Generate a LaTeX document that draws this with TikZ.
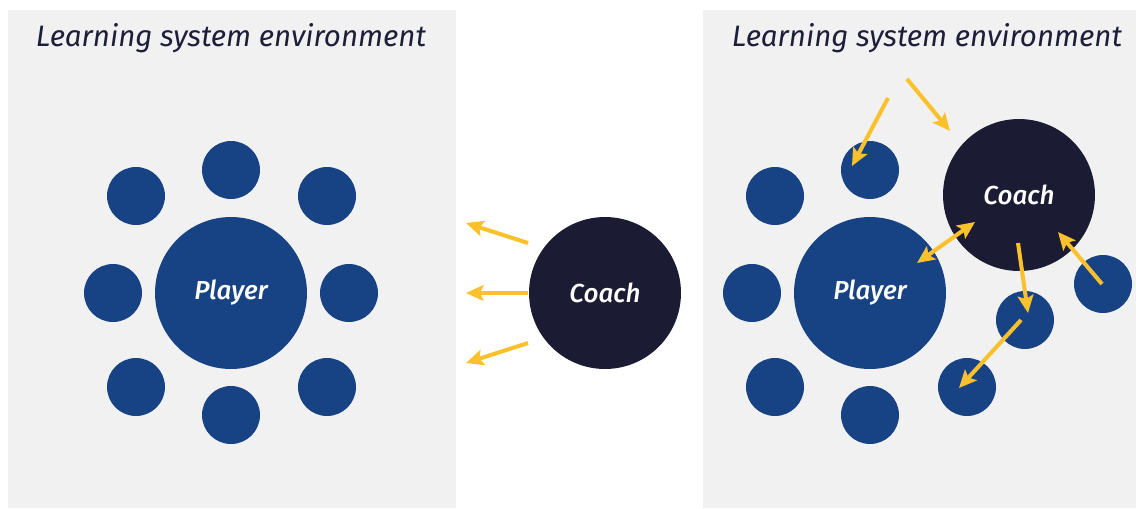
\documentclass[tikz,border=0pt]{standalone}
\usepackage{fontspec}
\setmainfont{Fira Sans}
\newfontfamily\bubblefont{Fira Sans}[UprightFont=* Medium,ItalicFont=* Medium Italic]
\usetikzlibrary{arrows.meta}
\definecolor{envgray}{HTML}{F1F1F1}
\definecolor{playerblue}{HTML}{174384}
\definecolor{coachnavy}{HTML}{1B1B33}
\definecolor{pullyellow}{HTML}{FBC12D}
\definecolor{titleink}{HTML}{1E1E3A}
\begin{document}
\begin{tikzpicture}[x=0.02cm,y=-0.02cm,
  ball/.style={circle,fill=playerblue,minimum size=1.16cm,inner sep=0pt},
  big/.style={circle,minimum size=3.04cm,inner sep=0pt,text=white,font=\bubblefont\itshape\fontsize{14.8}{16}\selectfont},
  envtitle/.style={text=titleink,font=\itshape\fontsize{16.8}{20}\selectfont},
  pull/.style={draw=pullyellow,line width=2.3pt,-{Stealth[length=10pt,width=9pt,inset=2pt]}}]
\useasboundingbox (0,0) rectangle (1136,508);
% two environments
\fill[envgray] (8,10) rectangle (456,508);
\fill[envgray] (703,10) rectangle (1136,508);
\node[envtitle] (t1) at (231,38) {Learning system environment};
\node[envtitle] (t2) at (927,38) {Learning system environment};
% left: player with its surroundings
\node[big,fill=playerblue] (p1) at (231,293) {Player};
\node[ball] (a1) at (231,170) {};\node[ball] (a2) at (136,196) {};
\node[ball] (a3) at (327,196) {};\node[ball] (a4) at (113,293) {};
\node[ball] (a5) at (349,293) {};\node[ball] (a6) at (136,387) {};
\node[ball] (a7) at (231,415) {};\node[ball] (a8) at (327,387) {};
% coach outside
\node[big,fill=coachnavy] (c1) at (605,293) {Coach};
\coordinate (o1) at (528,243);\coordinate (e1) at (466,223);
\coordinate (o2) at (528,293);\coordinate (e2) at (466,293);
\coordinate (o3) at (528,343);\coordinate (e3) at (466,363);
\draw[pull] (o1) -- (e1);
\draw[pull] (o2) -- (e2);
\draw[pull] (o3) -- (e3);
% right: coach inside the environment
\node[big,fill=playerblue] (p2) at (870,293) {Player};
\node[ball] (b1) at (870,170) {};\node[ball] (b2) at (775,196) {};
\node[ball] (b3) at (752,293) {};\node[ball] (b4) at (775,387) {};
\node[ball] (b5) at (870,415) {};\node[ball] (b6) at (967,387) {};
\node[ball] (b7) at (1025,320) {};\node[ball] (b8) at (1103,284) {};
\node[big,fill=coachnavy] (c2) at (1019,195) {Coach};
\coordinate (f1) at (888,98);\coordinate (g1) at (852,166);
\coordinate (f2) at (907,79);\coordinate (g2) at (950,131);
\coordinate (f3) at (917,263);\coordinate (g3) at (975,222);
\coordinate (f4) at (1018,243);\coordinate (g4) at (1028,313);
\coordinate (f5) at (1102,284);\coordinate (g5) at (1058,232);
\coordinate (f6) at (1021,320);\coordinate (g6) at (959,388);
\draw[pull] (f1) -- (g1);
\draw[pull] (f2) -- (g2);
\draw[pull,{Stealth[length=10pt,width=9pt,inset=2pt]}-{Stealth[length=10pt,width=9pt,inset=2pt]}] (f3) -- (g3);
\draw[pull] (f4) -- (g4);
\draw[pull] (f5) -- (g5);
\draw[pull] (f6) -- (g6);
\end{tikzpicture}
\end{document}
